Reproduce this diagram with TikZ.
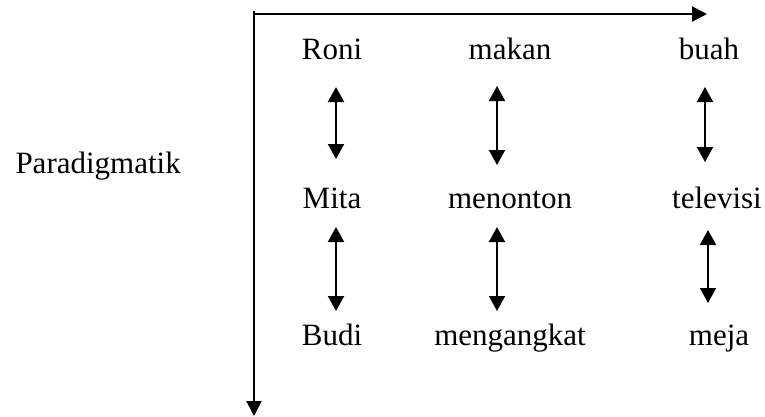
\documentclass[tikz,border=0pt]{standalone}
\usepackage{fontspec}
\setmainfont{Liberation Serif}
\usetikzlibrary{arrows.meta}
\begin{document}
\begin{tikzpicture}[x=1pt,y=-1pt,
  word/.style={anchor=base,inner sep=0pt,font=\fontsize{31}{36}\selectfont},
  axis/.style={line width=2pt,-{Triangle[length=15pt,width=15pt]}},
  dbl/.style={line width=2pt,{Triangle[length=15pt,width=16pt]}-{Triangle[length=15pt,width=16pt]}}]
\useasboundingbox (0,0) rectangle (765,416);
% axes
\coordinate (o) at (254,11);
\coordinate (hx) at (254,14);
\coordinate (he) at (707,14);
\coordinate (ve) at (254,416);
\draw[axis] (hx) -- (he);
\draw[axis] (o) -- (ve);
% words
\node[word,anchor=base east] (par) at (181,173) {Paradigmatik};
\node[word] (roni) at (332,59) {Roni};
\node[word] (makan) at (510,59) {makan};
\node[word] (buah) at (709,59) {buah};
\node[word] (mita) at (332,208) {Mita};
\node[word] (menonton) at (510,208) {menonton};
\node[word] (televisi) at (717,208) {televisi};
\node[word] (budi) at (332,345) {Budi};
\node[word] (mengangkat) at (510,345) {mengangkat};
\node[word] (meja) at (719,345) {meja};
% arrow ends
\coordinate (a1t) at (336,87);  \coordinate (a1b) at (336,159);
\coordinate (a2t) at (336,227); \coordinate (a2b) at (336,311);
\coordinate (b1t) at (497,86);  \coordinate (b1b) at (497,165);
\coordinate (b2t) at (497,227); \coordinate (b2b) at (497,311);
\coordinate (c1t) at (705,87);  \coordinate (c1b) at (705,162);
\coordinate (c2t) at (708,230); \coordinate (c2b) at (708,303);
\draw[dbl] (a1t) -- (a1b);
\draw[dbl] (a2t) -- (a2b);
\draw[dbl] (b1t) -- (b1b);
\draw[dbl] (b2t) -- (b2b);
\draw[dbl] (c1t) -- (c1b);
\draw[dbl] (c2t) -- (c2b);
\end{tikzpicture}
\end{document}
